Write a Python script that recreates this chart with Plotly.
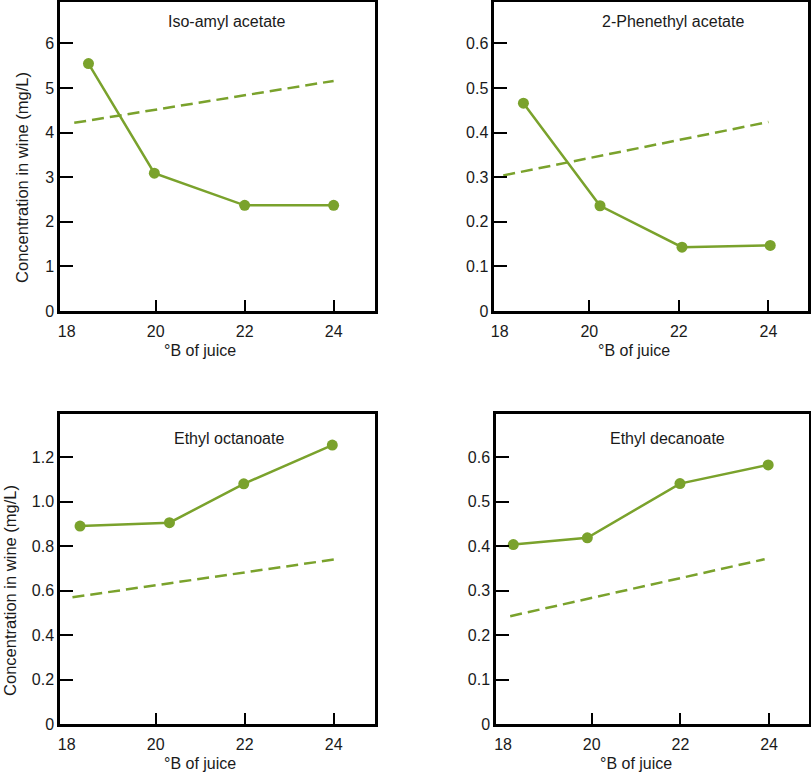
import plotly.graph_objects as go

GREEN = "#7aa22c"
FONT = "Liberation Sans, Arial, sans-serif"
TXT = "#1a1a1a"

# Panel titles
titles = ["Iso-amyl acetate", "2-Phenethyl acetate", "Ethyl octanoate", "Ethyl decanoate"]
x_title = "°B of juice"
y_title = "Concentration in wine (mg/L)"

# Measured points (°B of juice, concentration mg/L)
iso_x = [18.49, 19.97, 22.0, 24.0]
iso_y = [5.55, 3.09, 2.37, 2.37]
phe_x = [18.53, 20.24, 22.07, 24.04]
phe_y = [0.466, 0.236, 0.143, 0.147]
oct_x = [18.30, 20.31, 21.98, 23.97]
oct_y = [0.891, 0.906, 1.081, 1.255]
dec_x = [18.23, 19.90, 21.99, 23.98]
dec_y = [0.404, 0.419, 0.541, 0.583]

# Dashed reference lines (endpoints)
iso_dx = [18.17, 24.0]
iso_dy = [4.22, 5.16]
phe_dx = [18.08, 24.0]
phe_dy = [0.304, 0.424]
oct_dx = [18.13, 24.09]
oct_dy = [0.571, 0.743]
dec_dx = [18.16, 23.90]
dec_dy = [0.243, 0.371]

x_ticks = [18, 20, 22, 24]
x_tick_marks = [20, 22, 24]
y_ticks_iso = [0, 1, 2, 3, 4, 5, 6]
y_ticks_phe = [0, 0.1, 0.2, 0.3, 0.4, 0.5, 0.6]
y_ticks_oct = [0, 0.2, 0.4, 0.6, 0.8, 1.0, 1.2]
y_text_oct = ["0", "0.2", "0.4", "0.6", "0.8", "1.0", "1.2"]
y_ticks_dec = [0, 0.1, 0.2, 0.3, 0.4, 0.5, 0.6]

panels = [
    dict(x=iso_x, y=iso_y, dx=iso_dx, dy=iso_dy, yt=y_ticks_iso, ytt=[str(v) for v in y_ticks_iso],
         yr=[0, 6.93], xr=[17.85, 24.93], xd=[0.074, 0.4624], yd=[0.5977, 0.9974],
         tx=0.2799, ty=0.9728, xty=0.5472, ytx=0.028),
    dict(x=phe_x, y=phe_y, dx=phe_dx, dy=phe_dy, yt=y_ticks_phe, ytt=["0"] + [f"{v:.1f}" for v in y_ticks_phe[1:]],
         yr=[0, 0.693], xr=[17.88, 24.89], xd=[0.6095, 0.9967], yd=[0.5977, 0.9974],
         tx=0.8302, ty=0.9728, xty=0.5472, ytx=None),
    dict(x=oct_x, y=oct_y, dx=oct_dx, dy=oct_dy, yt=y_ticks_oct, ytt=y_text_oct,
         yr=[0, 1.396], xr=[17.85, 24.93], xd=[0.074, 0.4624], yd=[0.063, 0.4648],
         tx=0.2828, ty=0.4321, xty=0.0129, ytx=0.0125),
    dict(x=dec_x, y=dec_y, dx=dec_dx, dy=dec_dy, yt=y_ticks_dec, ytt=["0"] + [f"{v:.1f}" for v in y_ticks_dec[1:]],
         yr=[0, 0.698], xr=[17.84, 24.9], xd=[0.6116, 0.9975], yd=[0.063, 0.4648],
         tx=0.8234, ty=0.4321, xty=0.0129, ytx=None),
]

fig = go.Figure()
layout = dict(
    width=811, height=773,
    margin=dict(l=0, r=0, t=0, b=0, pad=0, autoexpand=False),
    paper_bgcolor="white", plot_bgcolor="white",
    showlegend=False,
    font=dict(family=FONT, size=16, color=TXT),
)

annotations = []
for i, p in enumerate(panels):
    n = "" if i == 0 else str(i + 1)
    xa, ya = "x" + n, "y" + n
    k = str(i + 5)
    xo = "x" + k  # overlay x axis with identical range, carrying the tick marks
    fig.add_trace(go.Scatter(x=p["dx"], y=p["dy"], mode="lines", xaxis=xo, yaxis=ya,
                             line=dict(color=GREEN, width=2.5, dash="12px,6px")))
    fig.add_trace(go.Scatter(x=p["x"], y=p["y"], mode="lines+markers", xaxis=xa, yaxis=ya,
                             line=dict(color=GREEN, width=2.5),
                             marker=dict(color=GREEN, size=11)))
    common = dict(showgrid=False, zeroline=False, automargin=False,
                  tickcolor="black", tickwidth=1.5,
                  tickfont=dict(family=FONT, size=16, color=TXT))
    frame = dict(showline=True, linecolor="black", linewidth=2.5, mirror=True)
    # labelled x axis (no tick marks: the 18 position sits at the frame)
    layout["xaxis" + n] = dict(domain=p["xd"], range=p["xr"], anchor=ya,
                               tickvals=x_ticks, ticktext=[str(v) for v in x_ticks],
                               ticks="", ticklabelstandoff=4, **frame, **common)
    layout["xaxis" + k] = dict(overlaying=xa, range=p["xr"], anchor=ya, side="bottom",
                               tickvals=x_tick_marks, showticklabels=False,
                               ticks="inside", ticklen=11, showline=False, **common)
    layout["yaxis" + n] = dict(domain=p["yd"], range=p["yr"], anchor=xa,
                               tickvals=p["yt"], ticktext=p["ytt"], ticks="inside",
                               ticklen=13, **frame, **common)
    # panel title
    annotations.append(dict(text=titles[i], xref="paper", yref="paper",
                            x=p["tx"], y=p["ty"], xanchor="center", yanchor="middle",
                            showarrow=False, font=dict(family=FONT, size=16, color=TXT)))
    # x-axis title centred over the 18-24 tick span
    annotations.append(dict(text=x_title, xref=xa, yref="paper",
                            x=(x_ticks[0] + x_ticks[-1]) / 2, y=p["xty"],
                            xanchor="center", yanchor="middle",
                            showarrow=False, font=dict(family=FONT, size=16, color=TXT)))
    # y-axis title centred over the tick span
    if p["ytx"] is not None:
        annotations.append(dict(text=y_title, xref="paper", yref=ya,
                                x=p["ytx"], y=(p["yt"][0] + p["yt"][-1]) / 2,
                                xanchor="center", yanchor="middle", textangle=-90,
                                showarrow=False, font=dict(family=FONT, size=16.5, color=TXT)))

layout["annotations"] = annotations
fig.update_layout(**layout)
fig.write_html("out.html", config={"displayModeBar": False},
               post_script="document.body.style.margin='0';document.body.style.overflow='hidden';")
